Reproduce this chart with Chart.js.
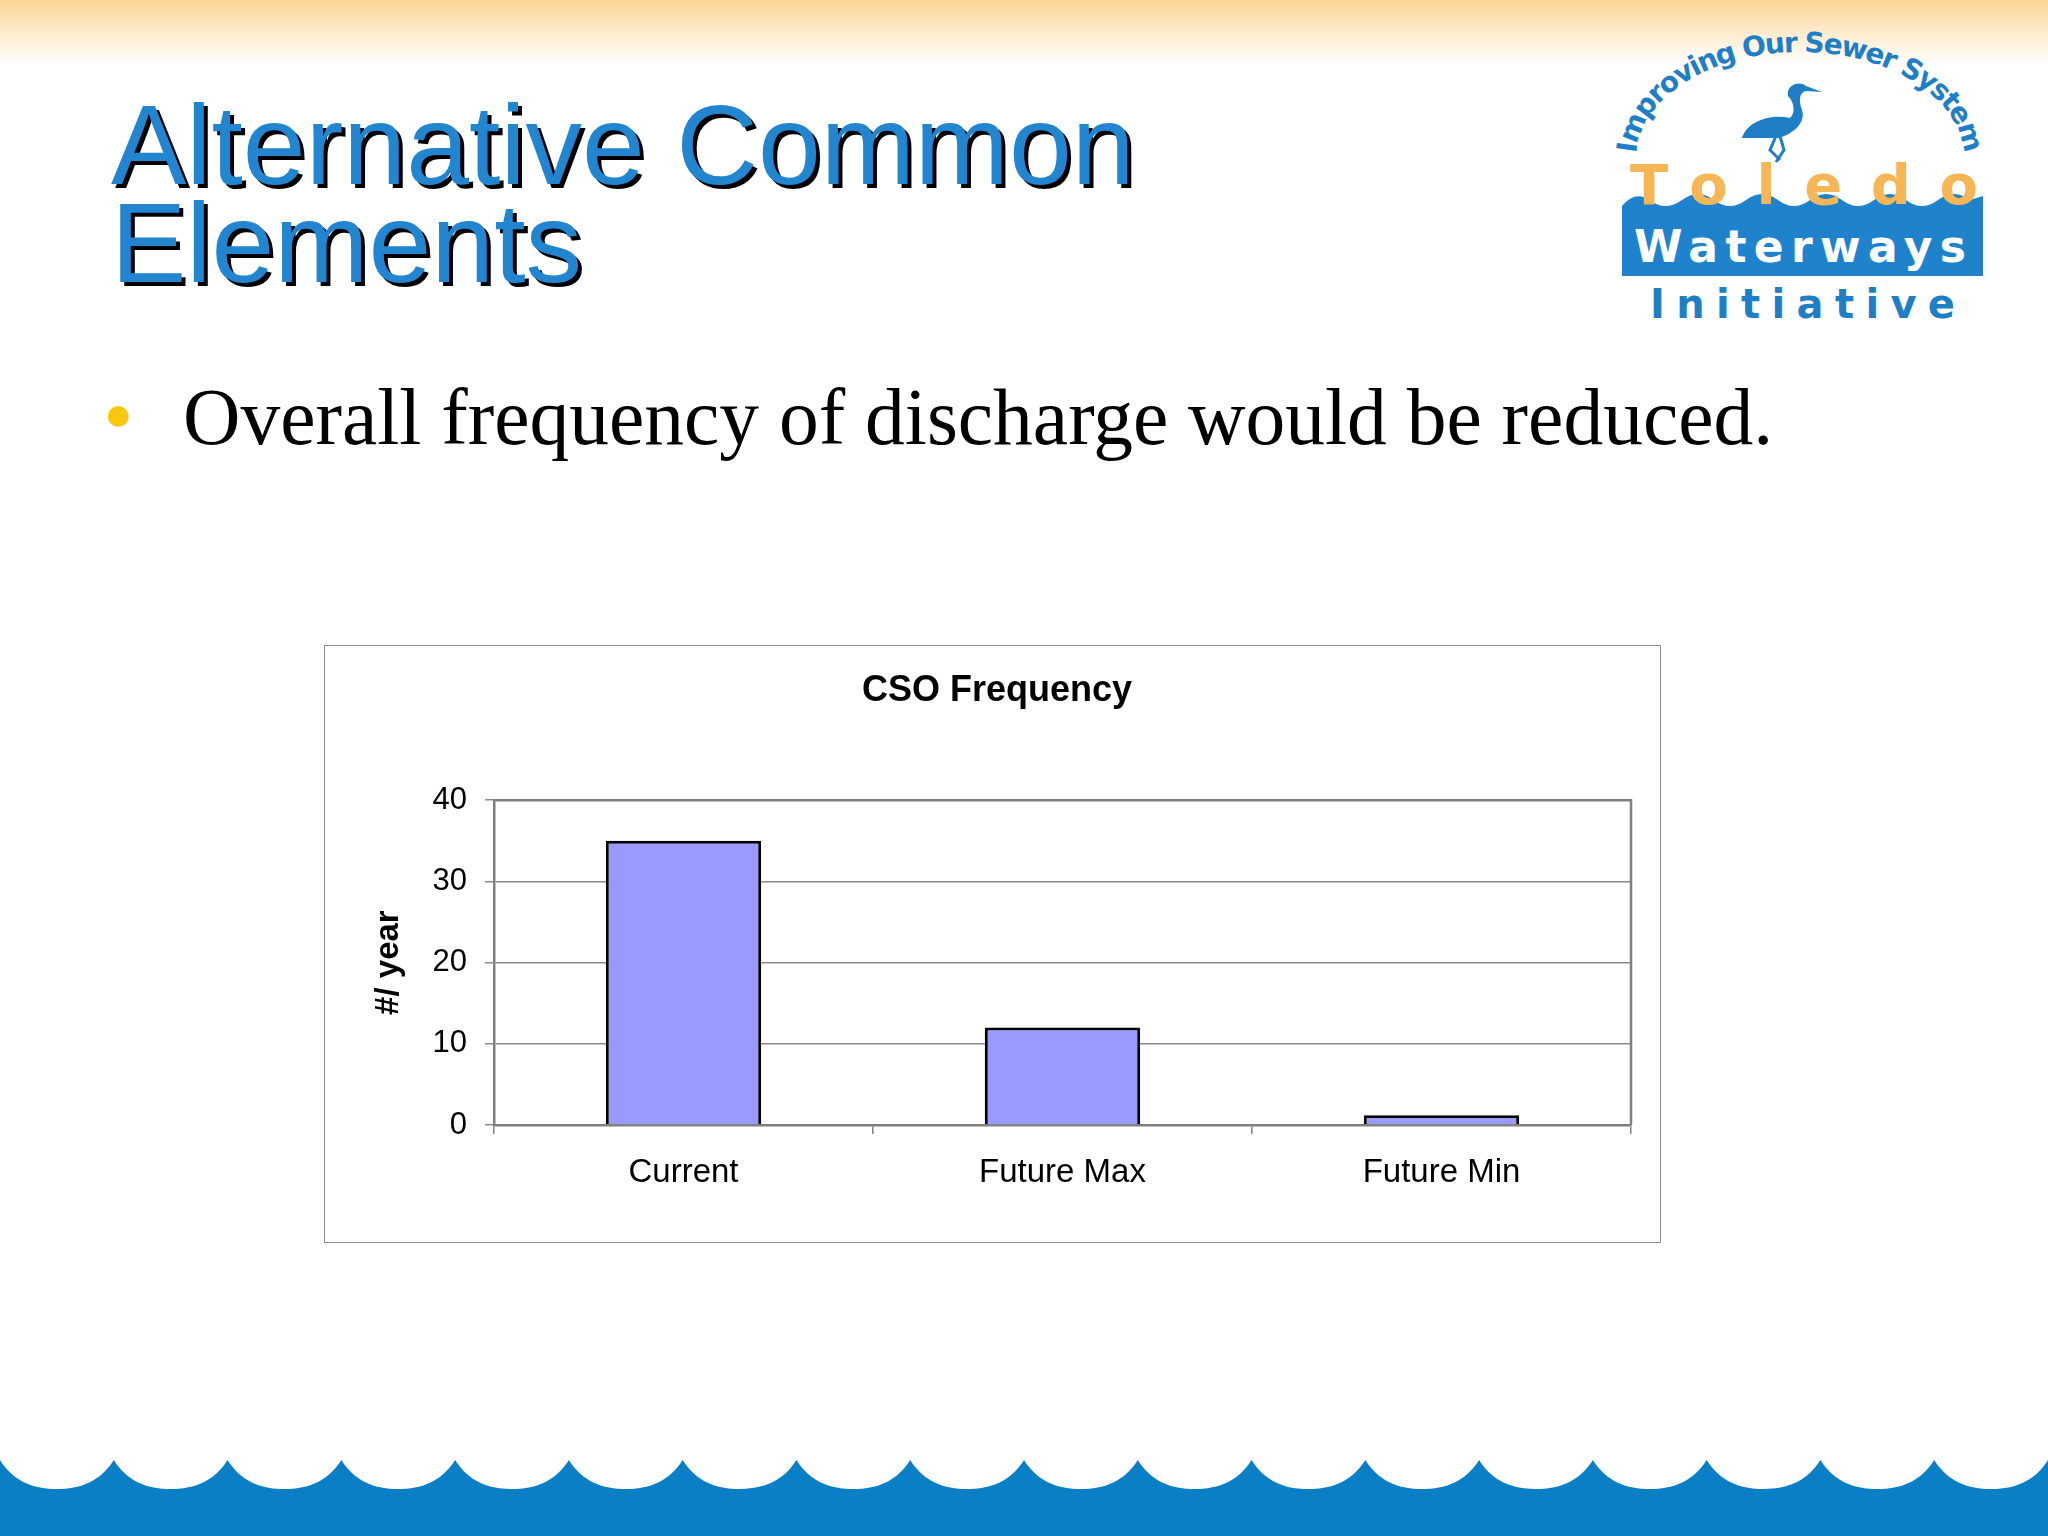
<!DOCTYPE html>
<html lang="en">
<head>
    <meta charset="utf-8">
    <title>Alternative Common Elements</title>
    <script src="https://cdn.jsdelivr.net/npm/chart.js"></script>
    <style>
        html, body { margin: 0; padding: 0; }
        body {
            width: 2048px; height: 1536px; position: relative; overflow: hidden;
            background: #fff; font-family: "Liberation Sans", Arial, sans-serif;
        }
        .top-band {
            position: absolute; left: 0; top: 0; width: 2048px; height: 64px;
            background: linear-gradient(to bottom, #fbd595 0%, #fde9c6 45%, #ffffff 100%);
        }
        .slide-title {
            position: absolute; left: 111px; top: 96px; margin: 0;
            font-family: "Liberation Sans", Arial, sans-serif; font-weight: normal;
            font-size: 113px; line-height: 98px; letter-spacing: 0;
            color: #2185d0; text-shadow: 4px 4px 0 #000;
        }
        .bullet {
            position: absolute; left: 104px; top: 366px; margin: 0;
            font-family: "Liberation Serif", "Times New Roman", serif;
            font-size: 79.5px; line-height: 96px; color: #000; white-space: nowrap;
        }
        .bullet .dot { color: #f9c80e; font-family: "Liberation Sans", Arial, sans-serif; font-size: 48px; vertical-align: 14px; margin-right: 50px; }
        .chart-box {
            position: absolute; left: 324px; top: 645px; width: 1335px; height: 596px;
            border: 1px solid #8c8c8c; background: #fff;
        }
        #csoChart { display: block; }
        svg { position: absolute; left: 0; top: 0; }
    </style>
</head>
<body>
    <div class="top-band"></div>

    <svg width="2048" height="360" viewBox="0 0 2048 360">
        <defs>
            <path id="arcPath" d="M 1636 158 A 164 106 0 0 1 1964 158"></path>
        </defs>
        <text font-family="DejaVu Sans" font-weight="bold" font-size="28" fill="#1f7fc6">
            <textPath href="#arcPath" startOffset="50%" text-anchor="middle" textLength="420" lengthAdjust="spacing">Improving Our Sewer System</textPath>
        </text>
        <!-- heron -->
        <path d="M1742 138 C1748 120 1772 114 1790 118 C1796 112 1794 102 1788 96 C1786 86 1798 80 1806 86 L1822 92 L1806 91 C1800 92 1798 100 1802 110 C1806 122 1794 134 1778 138 Z" fill="#1f7fc6"></path>
        <path d="M1776 136 L1770 150 L1780 160 M1780 136 L1784 150 L1776 162" stroke="#1f7fc6" stroke-width="3" fill="none"></path>
        <path d="M1622 206 Q1635 190 1650 200 Q1665 212 1682 200 Q1698 188 1714 200 Q1730 212 1746 200 Q1762 188 1778 200 Q1794 212 1810 200 Q1826 188 1842 200 Q1858 212 1874 200 Q1890 188 1906 200 Q1922 212 1938 200 Q1954 188 1970 200 L1983 196 L1983 276 L1622 276 Z" fill="#1e82cc"></path>
        <text x="1630" y="204" font-family="DejaVu Sans" font-weight="bold" font-size="56" fill="#f6b655" textLength="348" lengthAdjust="spacing">Toledo</text>
        <text x="1634" y="262" font-family="DejaVu Sans" font-weight="bold" font-size="44" fill="#ffffff" textLength="332" lengthAdjust="spacing">Waterways</text>
        <text x="1650" y="318" font-family="DejaVu Sans" font-weight="bold" font-size="40" fill="#1f7fc6" textLength="305" lengthAdjust="spacing">Initiative</text>
    </svg>

    <h1 class="slide-title">Alternative Common<br>Elements</h1>
    <p class="bullet"><span class="dot">&#9679;</span>Overall frequency of discharge would be reduced.</p>

    <div class="chart-box">
        <canvas id="csoChart" width="1335" height="596"></canvas>
    </div>

    <svg id="waves" width="2048" height="1536" viewBox="0 0 2048 1536" style="pointer-events:none"></svg>

    <script>
        const categories = ['Current', 'Future Max', 'Future Min'];
        const csoPerYear = [35, 12, 1.2];
        const yMin = 0;
        const yMax = 40;
        const yStep = 10;

        // bottom wave decoration
        (function drawWaves() {
            const period = 2048 / 18;
            let d = 'M0 1536 L0 1460';
            for (let i = 0; i < 18; i++) {
                const x0 = i * period;
                d += ` C${x0 + period * 0.12} 1482, ${x0 + period * 0.3} 1489, ${x0 + period / 2} 1489`;
                d += ` C${x0 + period * 0.7} 1489, ${x0 + period * 0.88} 1482, ${x0 + period} 1460`;
            }
            d += ' L2048 1536 Z';
            document.getElementById('waves').innerHTML = `<path d="${d}" fill="#0a7fc6"></path>`;
        })();

        Chart.defaults.font.family = '"Liberation Sans", Arial, sans-serif';
        Chart.defaults.color = '#000';

        // gray frame around the plot area (top and right edges like Excel)
        const plotFrame = {
            id: 'plotFrame',
            afterDraw(chart) {
                const { ctx, chartArea: a } = chart;
                ctx.save();
                ctx.strokeStyle = '#808080';
                ctx.lineWidth = 2.5;
                ctx.beginPath();
                ctx.moveTo(a.left, a.top);
                ctx.lineTo(a.right, a.top);
                ctx.lineTo(a.right, a.bottom);
                ctx.stroke();
                ctx.restore();
            }
        };

        const ctx = document.getElementById('csoChart').getContext('2d');
        new Chart(ctx, {
            type: 'bar',
            data: {
                labels: categories,
                datasets: [{
                    label: '#/ year',
                    data: csoPerYear,
                    backgroundColor: '#9999ff',
                    borderColor: '#000',
                    borderWidth: 3,
                    barPercentage: 0.41,
                    categoryPercentage: 1
                }]
            },
            options: {
                responsive: false,
                animation: false,
                layout: { padding: { top: 0, left: 9, right: 0, bottom: 0 } },
                plugins: {
                    legend: { display: false },
                    tooltip: { enabled: false },
                    title: {
                        display: true,
                        text: 'CSO Frequency',
                        color: '#000',
                        font: { size: 36, weight: 'bold' },
                        padding: { top: 23, bottom: 88 }
                    }
                },
                scales: {
                    x: {
                        grid: {
                            offset: true,
                            drawOnChartArea: false,
                            tickLength: 9,
                            color: '#808080',
                            lineWidth: 1.5
                        },
                        border: { color: '#808080', width: 2.5 },
                        ticks: { font: { size: 33 }, padding: 19, color: '#000' },
                        afterFit(scale) { scale.height = 117; }
                    },
                    y: {
                        min: yMin,
                        max: yMax,
                        ticks: { stepSize: yStep, font: { size: 31 }, padding: 18, color: '#000' },
                        grid: { color: '#8a8a8a', lineWidth: 1.5, tickLength: 9 },
                        border: { color: '#808080', width: 2.5 },
                        title: {
                            display: true,
                            text: '#/ year',
                            color: '#000',
                            font: { size: 33, weight: 'bold' },
                            padding: { top: 35, bottom: 0 }
                        },
                        afterFit(scale) { scale.width = 160; }
                    },
                    // empty right axis, only keeps the gap between plot and chart border
                    yRight: {
                        position: 'right',
                        display: true,
                        min: yMin,
                        max: yMax,
                        ticks: { display: false },
                        grid: { display: false },
                        border: { display: false },
                        afterFit(scale) { scale.width = 29; }
                    }
                }
            },
            plugins: [plotFrame]
        });
    </script>
</body>
</html>
